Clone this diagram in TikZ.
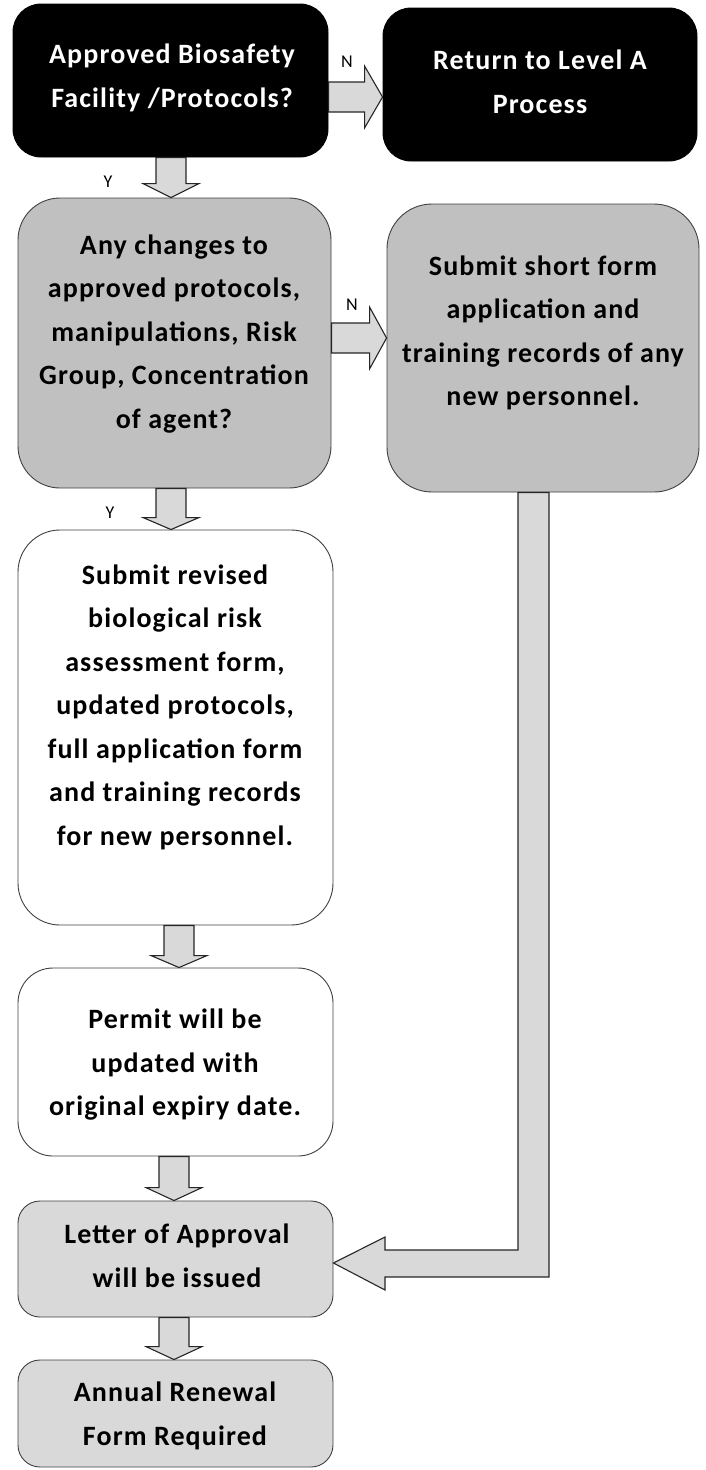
\documentclass[tikz,border=0pt]{standalone}
\usepackage{fontspec}
\setmainfont{Carlito}
\newfontfamily\boxfont{Carlito}[LetterSpace=4]
\usetikzlibrary{calc}
\definecolor{boxgray}{HTML}{C0C0C0}
\definecolor{lightgray}{HTML}{D9D9D9}
\definecolor{edgegray}{HTML}{404040}
\tikzset{
  box/.style={draw=edgegray, line width=0.9pt, rectangle, rounded corners=#1, inner sep=0pt},
  txt/.style={font=\boxfont\bfseries\fontsize{28}{43.5}\selectfont, align=center, inner sep=0pt},
  yn/.style={font=\fontsize{18}{18}\selectfont, inner sep=0pt},
  blockarrow/.style={draw=black!85, fill=lightgray, line width=1.1pt, line join=miter}
}
\newcommand\fatdown[4]{%
  \draw[blockarrow] let \p1=(#1.south), \p2=(#2.north) in
    (#3-15,\y1) -- (#3-15,\y2+#4pt) -- (#3-28,\y2+#4pt) -- (#3,\y2)
    -- (#3+28,\y2+#4pt) -- (#3+15,\y2+#4pt) -- (#3+15,\y1) -- cycle;}
\newcommand\fatright[4]{%
  \draw[blockarrow] let \p1=(#1.east), \p2=(#2.west) in
    (\x1,#3-15) -- (\x2-#4pt,#3-15) -- (\x2-#4pt,#3-31) -- (\x2,#3)
    -- (\x2-#4pt,#3+31) -- (\x2-#4pt,#3+15) -- (\x1,#3+15) -- cycle;}
\begin{document}
\begin{tikzpicture}[x=1pt,y=-1pt]
\useasboundingbox (0,0) rectangle (706,1470);
% boxes
\node[box=28pt, draw=black, fill=black, minimum width=315pt, minimum height=153pt] (q1) at (170.5,80.5) {};
\node[box=28pt, draw=black, fill=black, minimum width=314pt, minimum height=153pt] (r1) at (540,84.5) {};
\node[box=42pt, fill=boxgray, minimum width=313pt, minimum height=290pt] (q2) at (174.5,343) {};
\node[box=45pt, fill=boxgray, minimum width=312pt, minimum height=288pt] (s1) at (543,348) {};
\node[box=42pt, fill=white, minimum width=315pt, minimum height=395pt] (s2) at (175.5,727.5) {};
\node[box=35pt, fill=white, minimum width=315pt, minimum height=188pt] (p1) at (175.5,1062) {};
\node[box=22pt, fill=lightgray, minimum width=315pt, minimum height=116pt] (l1) at (175.5,1259) {};
\node[box=22pt, fill=lightgray, minimum width=315pt, minimum height=107pt] (a1) at (175.5,1413.5) {};
% texts
\node[txt, text=white] (q1t) at (172,78) {Approved Biosafety\\Facility /Protocols?};
\node[txt, text=white] (r1t) at (540,82) {Return to Level A\\Process};
\node[txt] (q2t) at (174,334) {Any changes to\\approved protocols,\\manipulations, Risk\\Group, Concentration\\of agent?};
\node[txt] (s1t) at (543,333) {Submit short form\\application and\\training records of any\\new personnel.};
\node[txt] (s2t) at (175,707) {Submit revised\\biological risk\\assessment form,\\updated protocols,\\full application form\\and training records\\for new personnel.};
\node[txt] (p1t) at (175,1065) {Permit will be\\updated with\\original expiry date.};
\node[txt] (l1t) at (177,1256) {Letter of Approval\\will be issued};
\node[txt] (a1t) at (175,1416) {Annual Renewal\\Form Required};
% block arrows
\fatright{q1}{r1}{97}{18}
\fatright{q2}{s1}{338}{17}
\fatdown{q1}{q2}{171}{14}
\fatdown{q2}{s2}{171}{12}
\fatdown{s2}{p1}{179}{12}
\fatdown{p1}{l1}{174}{13}
\fatdown{l1}{a1}{174}{13}
\draw[blockarrow] let \p1=(s1.south), \p2=(l1.east) in
  (518,\y1) -- (518,1250) -- (385,1250) -- (385,1237) -- (\x2,1263)
  -- (385,1290) -- (385,1277) -- (549,1277) -- (549,\y1) -- cycle;
% labels
\node[yn] (n1) at (347,62) {N};
\node[yn] (n2) at (352,305) {N};
\node[yn] (y1) at (108,182) {Y};
\node[yn] (y2) at (110,513) {Y};
\end{tikzpicture}
\end{document}
